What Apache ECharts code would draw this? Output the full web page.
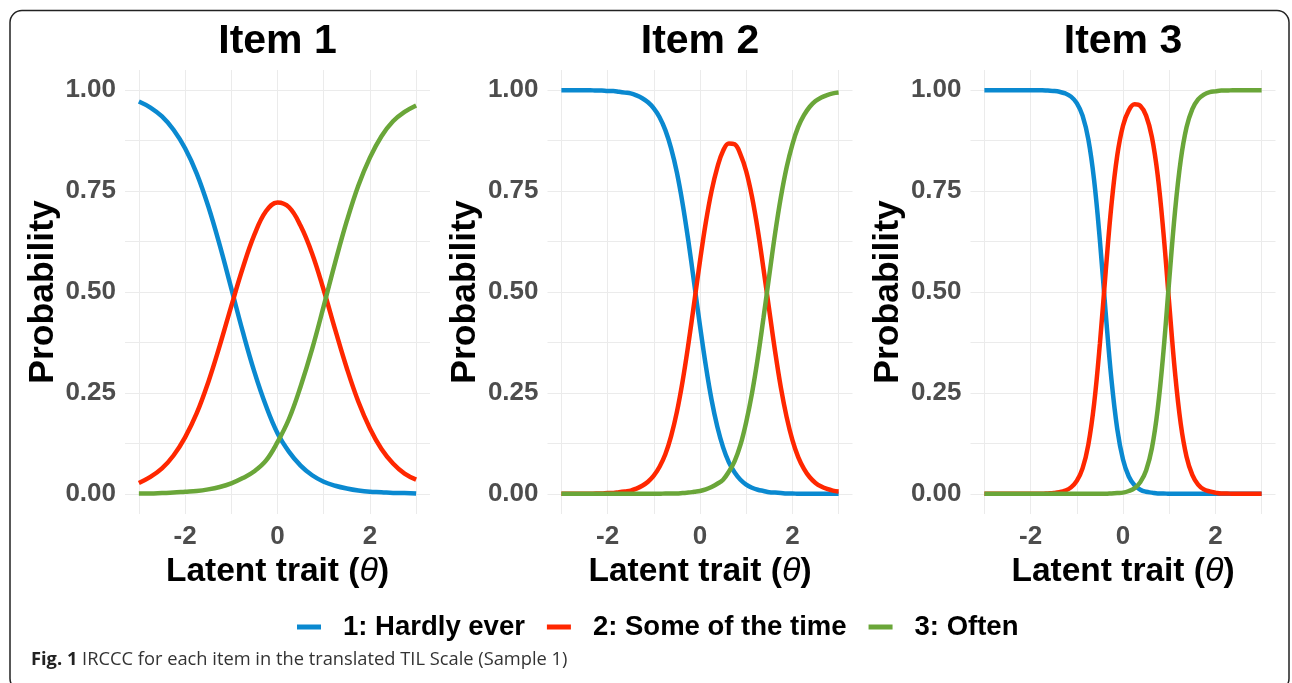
<!DOCTYPE html>
<html>
<head>
<meta charset="utf-8">
<script src="https://cdn.jsdelivr.net/npm/echarts@6.0.0/dist/echarts.min.js"></script>
<style>
  html, body { margin: 0; padding: 0; background: #fff; }
  #chart { width: 1292px; height: 683px; }
</style>
</head>
<body>
<div id="chart"></div>
<script>
// latent trait values: coarse grid for item 1, finer grid for the steep items 2 and 3
const theta = [-3, -2.75, -2.5, -2.25, -2, -1.75, -1.5, -1.25, -1, -0.75, -0.5, -0.25,
  0, 0.25, 0.5, 0.75, 1, 1.25, 1.5, 1.75, 2, 2.25, 2.5, 2.75, 3];
const thetaFine = [-3, -2.875, -2.75, -2.625, -2.5, -2.375, -2.25, -2.125, -2, -1.875, -1.75, -1.625,
  -1.5, -1.375, -1.25, -1.125, -1, -0.875, -0.75, -0.625, -0.5, -0.375, -0.25, -0.125,
  0, 0.125, 0.25, 0.375, 0.5, 0.625, 0.75, 0.875, 1, 1.125, 1.25, 1.375, 1.5, 1.625, 1.75, 1.875,
  2, 2.125, 2.25, 2.375, 2.5, 2.625, 2.75, 2.875, 3];

const categories = ['1: Hardly ever', '2: Some of the time', '3: Often'];
const items = ['Item 1', 'Item 2', 'Item 3'];

// Item 1
const hardly1 = [0.972, 0.957, 0.935, 0.902, 0.856, 0.794, 0.713, 0.616, 0.509, 0.401, 0.302, 0.218,
  0.150, 0.104, 0.070, 0.046, 0.030, 0.020, 0.013, 0.008, 0.005, 0.004, 0.002, 0.002, 0.001];
const some1 = [0.027, 0.042, 0.063, 0.095, 0.140, 0.199, 0.276, 0.367, 0.465, 0.560, 0.642, 0.700,
  0.722, 0.710, 0.664, 0.595, 0.505, 0.406, 0.311, 0.228, 0.162, 0.111, 0.075, 0.050, 0.035];
const often1 = [0.001, 0.001, 0.002, 0.003, 0.005, 0.007, 0.011, 0.017, 0.026, 0.039, 0.056, 0.082,
  0.128, 0.186, 0.266, 0.359, 0.465, 0.574, 0.676, 0.764, 0.833, 0.886, 0.923, 0.946, 0.962];

// Item 2
const hardly2 = [1.000, 1.000, 1.000, 1.000, 1.000, 1.000, 0.999, 0.999, 0.998, 0.998, 0.996, 0.994,
  0.992, 0.987, 0.980, 0.970, 0.955, 0.933, 0.901, 0.856, 0.796, 0.718, 0.625, 0.521,
  0.416, 0.318, 0.233, 0.166, 0.115, 0.078, 0.053, 0.035, 0.023, 0.015, 0.010, 0.007, 0.004, 0.003, 0.002, 0.001,
  0.001, 0.000, 0.000, 0.000, 0.000, 0.000, 0.000, 0.000, 0.000];
const some2 = [0.000, 0.000, 0.000, 0.000, 0.000, 0.000, 0.001, 0.001, 0.002, 0.002, 0.004, 0.006,
  0.008, 0.013, 0.020, 0.030, 0.045, 0.067, 0.098, 0.143, 0.203, 0.280, 0.372, 0.474,
  0.577, 0.672, 0.750, 0.809, 0.850, 0.868, 0.866, 0.841, 0.799, 0.736, 0.654, 0.556, 0.454, 0.353, 0.263, 0.190,
  0.133, 0.091, 0.062, 0.041, 0.027, 0.018, 0.012, 0.008, 0.006];
const often2 = [0.000, 0.000, 0.000, 0.000, 0.000, 0.000, 0.000, 0.000, 0.000, 0.000, 0.000, 0.000,
  0.000, 0.000, 0.000, 0.000, 0.000, 0.000, 0.001, 0.001, 0.001, 0.002, 0.003, 0.005,
  0.007, 0.011, 0.017, 0.025, 0.035, 0.055, 0.081, 0.121, 0.178, 0.249, 0.336, 0.437, 0.542, 0.645, 0.735, 0.809,
  0.866, 0.909, 0.938, 0.959, 0.973, 0.982, 0.988, 0.992, 0.994];

// Item 3
const hardly3 = [1.000, 1.000, 1.000, 1.000, 1.000, 1.000, 1.000, 1.000, 1.000, 1.000, 1.000, 0.999,
  0.998, 0.996, 0.992, 0.984, 0.968, 0.937, 0.878, 0.777, 0.628, 0.449, 0.283, 0.161,
  0.085, 0.043, 0.021, 0.010, 0.005, 0.003, 0.001, 0.001, 0.000, 0.000, 0.000, 0.000, 0.000, 0.000, 0.000, 0.000,
  0.000, 0.000, 0.000, 0.000, 0.000, 0.000, 0.000, 0.000, 0.000];
const some3 = [0.000, 0.000, 0.000, 0.000, 0.000, 0.000, 0.000, 0.000, 0.000, 0.000, 0.000, 0.001,
  0.002, 0.004, 0.008, 0.016, 0.032, 0.063, 0.122, 0.223, 0.372, 0.550, 0.716, 0.838,
  0.912, 0.950, 0.965, 0.961, 0.937, 0.884, 0.790, 0.647, 0.471, 0.301, 0.173, 0.092, 0.047, 0.023, 0.011, 0.006,
  0.003, 0.001, 0.001, 0.000, 0.000, 0.000, 0.000, 0.000, 0.000];
const often3 = [0.000, 0.000, 0.000, 0.000, 0.000, 0.000, 0.000, 0.000, 0.000, 0.000, 0.000, 0.000,
  0.000, 0.000, 0.000, 0.000, 0.000, 0.000, 0.000, 0.000, 0.000, 0.000, 0.001, 0.002,
  0.003, 0.007, 0.014, 0.029, 0.058, 0.113, 0.209, 0.352, 0.529, 0.699, 0.827, 0.908, 0.953, 0.977, 0.989, 0.995,
  0.997, 0.999, 0.999, 1.000, 1.000, 1.000, 1.000, 1.000, 1.000];

const xTicks = [-3, -2, -1, 0, 1, 2, 3];
const xLabels = [-2, 0, 2];
const yTicks = [0, 0.125, 0.25, 0.375, 0.5, 0.625, 0.75, 0.875, 1];
const yLabels = [0, 0.25, 0.5, 0.75, 1];

const thetas = [theta, thetaFine, thetaFine];
const curves = [
  [hardly1, some1, often1],
  [hardly2, some2, often2],
  [hardly3, some3, often3]
];

const colors = ['#0A89D0', '#FF2700', '#6AA639'];
const panelLeft = [125, 547.5, 970.5];
const panelWidth = 305;
const font = '"Liberation Sans", Arial, sans-serif';
const capFont = '"Open Sans", sans-serif';

let chart = echarts.init(document.getElementById('chart'));

let grids = [], xAxes = [], yAxes = [], titles = [], series = [];

items.forEach((item, i) => {
  grids.push({ left: panelLeft[i], top: 70, width: panelWidth, height: 444 });

  titles.push({
    text: item,
    left: panelLeft[i] + panelWidth / 2,
    top: 42,
    textAlign: 'center',
    textVerticalAlign: 'middle',
    padding: 0,
    textStyle: { fontFamily: font, fontWeight: 'bold', fontSize: 41, color: '#000' }
  });

  xAxes.push({
    type: 'value',
    gridIndex: i,
    min: -3.3,
    max: 3.3,
    name: 'Latent trait ({t|θ})',
    nameLocation: 'middle',
    nameGap: 34,
    nameTextStyle: {
      fontFamily: font, fontWeight: 'bold', fontSize: 33.5, color: '#000',
      rich: { t: { fontFamily: font, fontStyle: 'italic', fontWeight: 'normal', fontSize: 34, color: '#000' } }
    },
    axisLine: { show: false, onZero: false },
    axisTick: { show: false, customValues: xTicks },
    splitLine: { show: true, customValues: xTicks, lineStyle: { color: '#EBEBEB', width: 1 } },
    axisLabel: {
      customValues: xLabels,
      margin: 10,
      fontFamily: font, fontWeight: 'bold', fontSize: 26, color: '#4D4D4D'
    }
  });

  yAxes.push({
    type: 'value',
    gridIndex: i,
    min: -0.05,
    max: 1.05,
    name: 'Probability',
    nameLocation: 'middle',
    nameGap: 64,
    nameTextStyle: { fontFamily: font, fontWeight: 'bold', fontSize: 35.5, color: '#000' },
    axisLine: { show: false },
    axisTick: { show: false, customValues: yTicks },
    splitLine: { show: true, customValues: yTicks, lineStyle: { color: '#EBEBEB', width: 1 } },
    axisLabel: {
      customValues: yLabels,
      margin: 9,
      formatter: v => v.toFixed(2),
      fontFamily: font, fontWeight: 'bold', fontSize: 26, color: '#4D4D4D'
    }
  });

  curves[i].forEach((vals, k) => {
    series.push({
      name: categories[k],
      type: 'line',
      xAxisIndex: i,
      yAxisIndex: i,
      smooth: 0.4,
      symbol: 'none',
      color: colors[k],
      lineStyle: { width: 4.5, color: colors[k] },
      data: thetas[i].map((t, j) => [t, vals[j]])
    });
  });
});

// figure caption
titles.push({
  text: '{b|Fig. 1} {n|IRCCC for each item in the translated TIL Scale (Sample 1)}',
  left: 31,
  top: 660,
  textAlign: 'left',
  textVerticalAlign: 'middle',
  padding: 0,
  textStyle: {
    fontFamily: capFont, fontSize: 18.3, fontWeight: 'normal', color: '#222',
    rich: {
      b: { fontFamily: capFont, fontWeight: 'bold', fontSize: 18.3, color: '#222' },
      n: { fontFamily: capFont, fontWeight: 'normal', fontSize: 18.3, color: '#333' }
    }
  }
});

let option = {
  animation: false,
  backgroundColor: '#fff',
  title: titles,
  legend: {
    data: categories,
    left: 297,
    top: 613,
    padding: 0,
    icon: 'rect',
    itemWidth: 24,
    itemHeight: 5,
    itemGap: 22,
    textStyle: { fontFamily: font, fontWeight: 'bold', fontSize: 27.5, color: '#000', padding: [0, 0, 0, 17] }
  },
  grid: grids,
  xAxis: xAxes,
  yAxis: yAxes,
  series: series,
  graphic: [{
    type: 'rect',
    silent: true,
    shape: { x: 10, y: 10.5, width: 1279, height: 680, r: 12 },
    style: { fill: 'none', stroke: '#222', lineWidth: 1.5 }
  }]
};

chart.setOption(option);
</script>
</body>
</html>
